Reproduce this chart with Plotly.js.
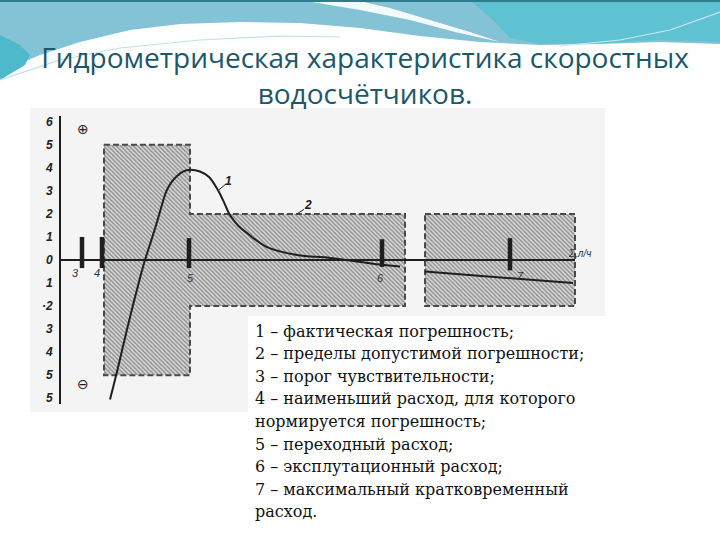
<!DOCTYPE html>
<html>
<head>
<meta charset="utf-8">
<script src="https://cdn.plot.ly/plotly-3.0.1.min.js"></script>
<style>html,body{margin:0;padding:0;background:#fff;}#chart{width:720px;height:540px;}</style>
</head>
<body>
<div id="chart"></div>
<script>
// ---- data ----
const curveX = [4.9, 5.6, 6.4, 7.2, 7.9, 8.4, 9.1, 9.6, 10.1, 10.5, 11.0, 11.6, 12.2, 12.9, 13.9, 14.8, 15.6, 16.2, 16.9, 17.7, 18.6, 20.6, 23.6, 26.9, 31.9, 33.9];
const curveY = [-6.06, -4.85, -3.38, -1.95, -0.78, 0, 0.95, 1.65, 2.4, 2.95, 3.35, 3.65, 3.84, 3.92, 3.84, 3.6, 3.1, 2.6, 1.95, 1.5, 1.17, 0.56, 0.22, 0.09, -0.2, -0.28];
const curveTailX = [36.4, 51.2];
const curveTailY = [-0.5, -1.0];
const limitX = [4.3, 12.9, 12.9, 34.4, 34.4, 12.9, 12.9, 4.3, 4.3];
const limitY = [5, 5, 2, 2, -2, -2, -5, -5, 5];
const limit2X = [36.4, 51.4, 51.4, 36.4, 36.4];
const limit2Y = [2, 2, -2, -2, 2];
const axisEndX = 51.4;
const markerNames = ['3', '4', '5', '6', '7'];
const markerX = [2.1, 4.1, 12.8, 32.1, 44.9];
const markerTop = [1.0, 1.0, 0.95, 0.9, 0.95];
const markerBottom = [-0.35, -0.35, -0.35, -0.3, -0.45];
const markerLabelX = [1.4, 3.6, 12.9, 31.9, 45.9];
const markerLabelY = [-0.55, -0.55, -0.8, -0.8, -0.7];
const yTickVals = [6, 5, 4, 3, 2, 1, 0, -1, -2, -3, -4, -5, -6];
const yTickText = ['6', '5', '4', '3', '2', '1', '0', '1', '·2', '3', '4', '5', '5'];
const titleText = 'Гидрометрическая характеристика скоростных<br>водосчётчиков.';
const xUnitText = 'Σ,л/ч';
const legendLines = [
  '1 – фактическая погрешность;',
  '2 – пределы допустимой погрешности;',
  '3 – порог чувствительности;',
  '4 – наименьший расход, для которого',
  'нормируется погрешность;',
  '5 – переходный расход;',
  '6 – эксплутационный расход;',
  '7 – максимальный кратковременный',
  'расход.'
];

// ---- layout helpers (pixel -> paper) ----
const L = 61, T = 116, W = 540, H = 288;
const px = x => (x - L) / W;
const py = y => (T + H - y) / H;
function poly(pts) {
  let s = '';
  for (let i = 0; i < pts.length; i += 2) s += (i === 0 ? 'M' : 'L') + px(pts[i]).toFixed(4) + ',' + py(pts[i + 1]).toFixed(4);
  return s + 'Z';
}
function polyline(pts) {
  let s = '';
  for (let i = 0; i < pts.length; i += 2) s += (i === 0 ? 'M' : 'L') + px(pts[i]).toFixed(4) + ',' + py(pts[i + 1]).toFixed(4);
  return s;
}

const ink = '#1e1e1e';
const traces = [];
const hatch = {shape: '\\', fgcolor: '#8a8a8a', bgcolor: '#d9d9d9', size: 3, solidity: 0.45};
traces.push({x: limitX, y: limitY, mode: 'lines', fill: 'toself', fillcolor: '#c4c4c4', fillpattern: hatch,
  line: {color: '#4a4a4a', width: 2, dash: '6px,3px'}, hoverinfo: 'skip', showlegend: false});
traces.push({x: limit2X, y: limit2Y, mode: 'lines', fill: 'toself', fillcolor: '#c4c4c4', fillpattern: hatch,
  line: {color: '#4a4a4a', width: 2, dash: '6px,3px'}, hoverinfo: 'skip', showlegend: false});
traces.push({x: [0, axisEndX], y: [0, 0], mode: 'lines', line: {color: ink, width: 2}, hoverinfo: 'skip', showlegend: false});
markerX.forEach((mx, i) => {
  traces.push({x: [mx, mx], y: [markerBottom[i], markerTop[i]], mode: 'lines', line: {color: ink, width: 4.5},
    hoverinfo: 'skip', showlegend: false});
});
traces.push({x: curveX, y: curveY, mode: 'lines', line: {color: ink, width: 2, shape: 'spline', smoothing: 1}, hoverinfo: 'skip', showlegend: false});
traces.push({x: curveTailX, y: curveTailY, mode: 'lines', line: {color: ink, width: 2}, hoverinfo: 'skip', showlegend: false});

const annotations = [];
markerNames.forEach((n, i) => {
  annotations.push({x: markerLabelX[i], y: markerLabelY[i], xref: 'x', yref: 'y', text: n, showarrow: false,
    font: {family: 'Liberation Sans', size: 11, color: '#333', style: 'italic'}});
});
annotations.push({x: 16.7, y: 3.45, xref: 'x', yref: 'y', text: '1', showarrow: false, font: {family: 'Liberation Sans', size: 12, color: ink, style: 'italic', weight: 'bold'}});
annotations.push({x: 24.7, y: 2.4, xref: 'x', yref: 'y', text: '2', showarrow: false, font: {family: 'Liberation Sans', size: 12, color: ink, style: 'italic', weight: 'bold'}});
annotations.push({x: 51.8, y: 0.3, xref: 'x', yref: 'y', text: xUnitText, showarrow: false, xanchor: 'center', font: {family: 'Liberation Sans', size: 10, color: '#333', style: 'italic'}});
annotations.push({x: 2.2, y: 5.7, xref: 'x', yref: 'y', text: '⊕', showarrow: false, font: {family: 'DejaVu Sans', size: 14, color: ink}});
annotations.push({x: 2.2, y: -5.4, xref: 'x', yref: 'y', text: '⊖', showarrow: false, font: {family: 'DejaVu Sans', size: 14, color: ink}});
legendLines.forEach((ln, i) => {
  annotations.push({x: px(253), y: py(331 + 22.6 * i), xref: 'paper', yref: 'paper', xanchor: 'left', yanchor: 'middle', align: 'left',
    text: ln, showarrow: false, font: {family: 'DejaVu Serif', size: 16, color: '#111'}});
});

const shapes = [
  // header band (teal with white wave below)
  {type: 'path', xref: 'paper', yref: 'paper', layer: 'below', line: {width: 0}, fillcolor: '#84c2d5',
    path: poly([0, 0, 720, 0, 720, 44, 660, 42, 600, 44, 540, 45, 480, 42, 420, 36, 360, 28, 300, 23, 240, 22, 180, 24, 130, 30, 80, 42, 40, 55, 0, 72])},
  {type: 'path', xref: 'paper', yref: 'paper', layer: 'below', line: {width: 0}, fillcolor: '#5fc2d2',
    path: poly([470, 0, 720, 0, 720, 42, 660, 40, 600, 43, 540, 44, 510, 38, 495, 22])},
  {type: 'path', xref: 'paper', yref: 'paper', layer: 'below', line: {width: 0}, fillcolor: '#f2fafb',
    path: poly([300, 0, 355, 0, 390, 8, 430, 20, 470, 32, 500, 42, 455, 32, 410, 20, 360, 10])},
  {type: 'path', xref: 'paper', yref: 'paper', layer: 'below', line: {width: 0}, fillcolor: '#4db9ca',
    path: poly([0, 35, 20, 45, 30, 55, 25, 65, 0, 80])},
  {type: 'path', xref: 'paper', yref: 'paper', layer: 'below', line: {color: '#bfe0ea', width: 1.2},
    path: polyline([0, 80, 60, 60, 120, 48, 200, 40, 280, 36, 340, 37])},
  {type: 'path', xref: 'paper', yref: 'paper', layer: 'below', line: {color: '#c8e8ef', width: 1.2},
    path: polyline([560, 46, 620, 40, 670, 30, 720, 12])},
  {type: 'rect', xref: 'paper', yref: 'paper', layer: 'below', line: {width: 0}, fillcolor: '#2e7d8f',
    x0: px(0), x1: px(720), y0: py(0), y1: py(2)},
  // scanned image background
  {type: 'rect', xref: 'paper', yref: 'paper', layer: 'below', line: {width: 0}, fillcolor: '#f4f4f4',
    x0: px(30), x1: px(605), y0: py(108), y1: py(412)},
  {type: 'rect', xref: 'paper', yref: 'paper', layer: 'below', line: {width: 0}, fillcolor: '#ffffff',
    x0: px(248), x1: px(606), y0: py(316), y1: py(413)},
  // leader lines
  {type: 'line', xref: 'x', yref: 'y', x0: 15.8, y0: 3.05, x1: 16.5, y1: 3.3, line: {color: ink, width: 1}},
  {type: 'line', xref: 'x', yref: 'y', x0: 23.6, y0: 2.0, x1: 24.3, y1: 2.2, line: {color: ink, width: 1}}
];

const layout = {
  width: 720, height: 540,
  margin: {l: L, r: 720 - L - W, t: T, b: 540 - T - H, pad: 0},
  paper_bgcolor: '#ffffff', plot_bgcolor: 'rgba(0,0,0,0)',
  showlegend: false,
  title: {text: titleText, x: 0.507, xref: 'container', xanchor: 'center', y: 1 - 68 / 540, yref: 'container', yanchor: 'top',
    font: {family: 'Open Sans', size: 28, color: '#1b5868'}},
  xaxis: {range: [0, 54], visible: false, fixedrange: true},
  yaxis: {range: [-6.25, 6.25], showline: true, linecolor: ink, linewidth: 2, showgrid: false, zeroline: false,
    ticks: '', tickvals: yTickVals, ticktext: yTickText, ticklabelstandoff: 4,
    tickfont: {family: 'Liberation Sans', size: 12, color: '#222', style: 'italic', weight: 'bold'}, fixedrange: true},
  shapes: shapes,
  annotations: annotations
};

Plotly.newPlot('chart', traces, layout, {displayModeBar: false, staticPlot: true});
</script>
</body>
</html>
